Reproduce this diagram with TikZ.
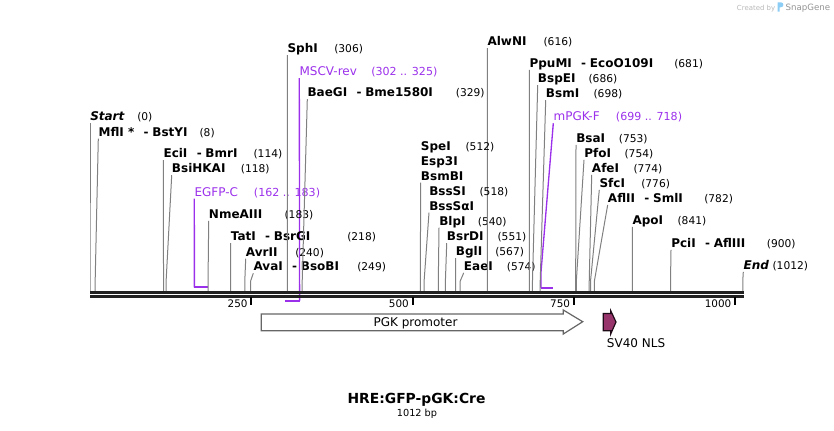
\documentclass[tikz,border=0pt]{standalone}
\usepackage{fontspec}
\setmainfont{DejaVu Sans}

\definecolor{primer}{RGB}{155,48,235}
\definecolor{cutline}{RGB}{128,128,128}
\definecolor{nls}{RGB}{152,52,108}
\definecolor{logo}{RGB}{140,205,245}

\newcommand\dsh{\hspace{7pt}-\hspace{2.8pt}}

\begin{document}
\begin{tikzpicture}[x=0.75pt, y=-0.75pt,
        enz/.style={anchor=base west, inner sep=0pt, text depth=1.7pt, font=\fontsize{9}{10}\selectfont\bfseries},
        num/.style={anchor=base west, inner sep=0pt, font=\fontsize{8}{10}\selectfont},
        prm/.style={anchor=base west, inner sep=0pt, text depth=1.7pt, text=primer, font=\fontsize{9}{10}\selectfont},
        prmnum/.style={anchor=base west, inner sep=0pt, text=primer, font=\fontsize{8.3}{10}\selectfont},
        cut/.style={draw=cutline, line width=0.75pt},
        oligo/.style={draw=primer, line width=1pt},
        bar/.style={draw=primer, line width=1.4pt},
        axis/.style={draw=black!87, line width=1.95pt},
        tick/.style={draw=black, line width=1.5pt},
        ticklbl/.style={anchor=base east, inner sep=0pt, font=\fontsize{7.8}{9}\selectfont},
        featlbl/.style={inner sep=0pt, font=\fontsize{9}{10}\selectfont}]
    \useasboundingbox (0,0) rectangle (834,430);

    % primers
    \coordinate (egfp-a) at (194.4,287.3);
    \coordinate (egfp-b) at (207.9,287.3);
    \node[prm] (egfp) at (194.3,196) {EGFP-C};
    \node[prmnum] (egfp-n) at (253.7,196) {(162 .. 183)};
    \draw[bar] (egfp-a) -- (egfp-b);
    \draw[oligo] (egfp-a) -- (egfp.south west);

    \coordinate (mscv-a) at (284.8,300.7);
    \coordinate (mscv-b) at (299.6,300.7);
    \node[prm] (mscv) at (299.3,75.7) {MSCV-rev};
    \node[prmnum] (mscv-n) at (371,75.7) {(302 .. 325)};
    \draw[bar] (mscv-a) -- (mscv-b);
    \draw[oligo] (mscv-b) -- (mscv.south west);

    \coordinate (mpgk-a) at (540.9,287.7);
    \coordinate (mpgk-b) at (553.1,287.7);
    \node[prm] (mpgk) at (553.3,120.7) {mPGK-F};
    \node[prmnum] (mpgk-n) at (615.7,120.7) {(699 .. 718)};
    \draw[bar] (mpgk-a) -- (mpgk-b);
    \draw[oligo] (mpgk-a) -- ++(0,-14.5) -- (mpgk.south west);

    % enzyme sites
    \foreach \p/\lx/\ly/\nm/\lbl/\nx/\nr in {
        0/90/120.7/start/{\textit{Start}}/137/(0),
        8/98.3/136/mfli/{MflI *\dsh BstYI}/199.3/(8),
        114/163.3/157.7/ecii/{EciI\dsh BmrI}/253.3/(114),
        118/171.7/172.7/bsihkai/{BsiHKAI}/240.7/(118),
        183/208.7/218.3/nmeaiii/{NmeAIII}/284.3/(183),
        218/230.7/240.7/tati/{TatI\dsh BsrGI}/347/(218),
        240/245.7/256/avrii/{AvrII}/295/(240),
        249/253.3/270.7/avai/{AvaI\dsh BsoBI}/357/(249),
        306/287.3/52.7/sphi/{SphI}/334/(306),
        329/307.3/96.7/baegi/{BaeGI\dsh Bme1580I}/455.7/(329),
        540/439/225/blpi/{BlpI}/477.7/(540),
        551/446.7/240.7/bsrdi/{BsrDI}/497.3/(551),
        567/455.7/255.7/bgli/{BglI}/495/(567),
        574/463.7/270.3/eaei/{EaeI}/506.7/(574),
        616/487.3/45.7/alwni/{AlwNI}/543.3/(616),
        681/529.3/67.3/ppumi/{PpuMI\dsh EcoO109I}/674/(681),
        686/537.7/82.7/bspei/{BspEI}/588.3/(686),
        698/545.7/97.7/bsmi/{BsmI}/593.3/(698),
        753/576/142.3/bsai/{BsaI}/618.7/(753),
        754/584/157.3/pfoi/{PfoI}/624.3/(754),
        774/591.7/172.3/afei/{AfeI}/633.3/(774),
        776/599.3/187.3/sfci/{SfcI}/641/(776),
        782/607.7/202.3/aflii/{AflII\dsh SmlI}/704/(782),
        841/632.3/224.3/apoi/{ApoI}/677.3/(841),
        900/671/247.3/pcii/{PciI\dsh AflIII}/766.7/(900),
        1012/743.3/269.3/end/{\textit{End}}/772.3/(1012)
    }{
        \coordinate (s-\nm) at ({90+0.645*\p},291);
        \node[enz] (e-\nm) at (\lx,\ly) {\lbl};
        \node[num] (n-\nm) at (\nx,\ly) {\nr};
        \draw[cut] (s-\nm) -- ++(0,-10) -- (e-\nm.south west);
    }

    % stacked sites at 512 and 518
    \node[enz] (e-spei) at (420.7,150) {SpeI};
    \node[num] (n-spei) at (465.3,150) {(512)};
    \node[enz] (e-esp) at (420.7,165) {Esp3I};
    \node[enz] (e-bsmbi) at (420.7,180) {BsmBI};
    \coordinate (s-bsmbi) at ({90+0.645*512},291);
    \draw[cut] (s-bsmbi) -- (e-bsmbi.south west);
    \node[enz] (e-bsssi) at (429,195) {BssSI};
    \node[num] (n-bsssi) at (479.3,195) {(518)};
    \node[enz] (e-bsssa) at (429,210) {BssSαI};
    \coordinate (s-bsssa) at ({90+0.645*518},291);
    \draw[cut] (s-bsssa) -- ++(0,-10) -- (e-bsssa.south west);

    % sequence line
    \draw[axis] (90,292.3) -- (743.5,292.3);
    \draw[axis] (90,296.2) -- (743.5,296.2);
    \foreach \k in {250,500,750,1000}{
        \coordinate (t-\k) at ({90+0.645*\k},297);
        \draw[tick] (t-\k) -- ++(0,7.5);
        \node[ticklbl] (tl-\k) at ({90+0.645*\k-3.5},307.3) {\k};
    }

    % features
    \draw[draw=black!60, fill=white, line width=0.9pt, line join=miter]
        (261.3,314) -- (563.3,314) -- (563.3,310) -- (582.7,321.7) -- (563.3,334) -- (563.3,330.7) -- (261.3,330.7) -- cycle;
    \node[featlbl, anchor=base] (pgk) at (415.5,326.3) {PGK promoter};
    \draw[draw=black!80!nls, fill=nls, line width=0.9pt]
        (603.3,313.5) -- (610.7,313.5) -- (610.7,310.7) -- (616,322) -- (610.7,334) -- (610.7,330.7) -- (603.3,330.7) -- cycle;
    \node[featlbl, anchor=base west] (sv40) at (606.7,347.7) {SV40 NLS};

    % title
    \node[inner sep=0pt, anchor=base, font=\fontsize{10.4}{12}\selectfont\bfseries] (title) at (416.5,403.3) {HRE:GFP-pGK:Cre};
    \node[inner sep=0pt, anchor=base, font=\fontsize{7.3}{9}\selectfont] (size) at (417,416) {1012 bp};

    % credit
    \node[inner sep=0pt, anchor=base west, text=black!28, font=\fontsize{5.2}{6}\selectfont] (cred) at (736.7,10.5) {Created by};
    \fill[logo] (777.5,11.5) -- (777.5,2.3) -- (780.8,2.3) .. controls (784.2,2.3) and (784.2,7.3) .. (780.8,7.3) -- (779.6,7.3) -- (779.6,11.5) -- cycle;
    \node[inner sep=0pt, anchor=base west, text=black!42, font=\fontsize{6.5}{8}\selectfont] (snap) at (785.3,10.8) {SnapGene};
\end{tikzpicture}
\end{document}
